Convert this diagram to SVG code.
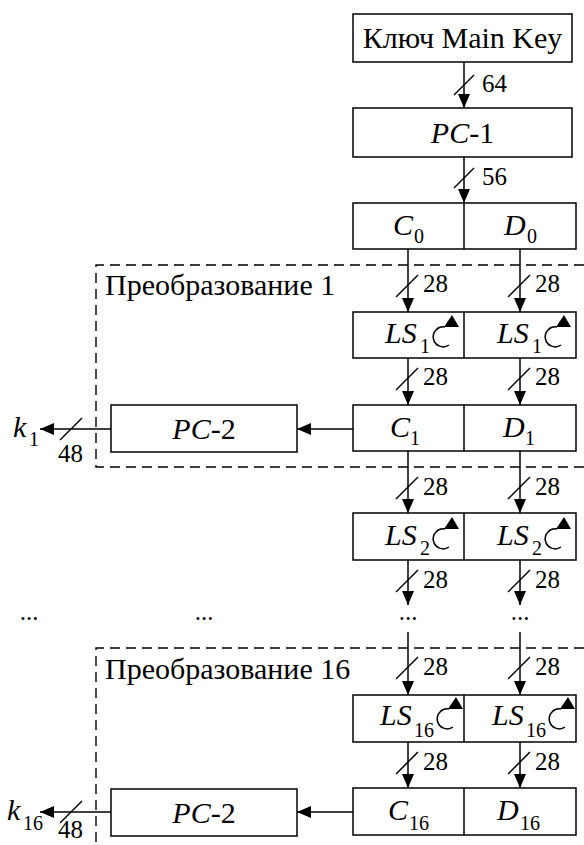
<svg xmlns="http://www.w3.org/2000/svg" width="584" height="845" viewBox="0 0 584 845" font-family="'Liberation Serif', 'Times New Roman', 'DejaVu Serif', serif">
<defs>
<style>
text{font-family:'Liberation Serif','Times New Roman','DejaVu Serif',serif;fill:#000}
.box{fill:#fff;stroke:#000;stroke-width:1.5}
.ln{fill:none;stroke:#000;stroke-width:1.5}
.dash{fill:none;stroke:#000;stroke-width:1.4;stroke-dasharray:10 6}
.t{font-size:30px}
.n{font-size:25px}
.i{font-style:italic}
.s{font-size:20px}
.dots{font-size:25px;text-anchor:middle}
</style>
<marker id="ah" viewBox="0 0 14 12" refX="14" refY="6" markerWidth="14" markerHeight="12" markerUnits="userSpaceOnUse" orient="auto">
<path d="M0,0 L14,6 L0,12 Z" fill="#000"/>
</marker>
<g id="rot">
<path d="M7,8 A10,10 0 1 1 3,-10" fill="none" stroke="#000" stroke-width="1.5"/>
<path d="M2,-10 L17,-10 L10,-22 Z" fill="#000"/>
</g>
</defs>

<g id="frames">
<path class="dash" d="M584,265 H96 V467 H584"/>
<path class="dash" d="M584,648 H96 V845"/>
<text class="t" x="105" y="295">Преобразование 1</text>
<text class="t" x="105" y="679">Преобразование 16</text>
</g>

<g id="connectors">
<line class="ln" x1="464" y1="62" x2="464" y2="108" marker-end="url(#ah)"/>
<line class="ln" x1="454" y1="95" x2="474" y2="75"/>
<text class="n" x="482" y="92">64</text>
<line class="ln" x1="464" y1="157" x2="464" y2="203" marker-end="url(#ah)"/>
<line class="ln" x1="454" y1="188" x2="474" y2="168"/>
<text class="n" x="482" y="185">56</text>

<line class="ln" x1="408" y1="249" x2="408" y2="312" marker-end="url(#ah)"/>
<line class="ln" x1="396" y1="297" x2="418" y2="275"/>
<text class="n" x="423" y="292">28</text>
<line class="ln" x1="520" y1="249" x2="520" y2="312" marker-end="url(#ah)"/>
<line class="ln" x1="508" y1="297" x2="530" y2="275"/>
<text class="n" x="535" y="292">28</text>

<line class="ln" x1="408" y1="358" x2="408" y2="405" marker-end="url(#ah)"/>
<line class="ln" x1="396" y1="390" x2="418" y2="368"/>
<text class="n" x="423" y="385">28</text>
<line class="ln" x1="520" y1="358" x2="520" y2="405" marker-end="url(#ah)"/>
<line class="ln" x1="508" y1="390" x2="530" y2="368"/>
<text class="n" x="535" y="385">28</text>

<line class="ln" x1="408" y1="451" x2="408" y2="513" marker-end="url(#ah)"/>
<line class="ln" x1="396" y1="499" x2="418" y2="477"/>
<text class="n" x="423" y="495">28</text>
<line class="ln" x1="520" y1="451" x2="520" y2="513" marker-end="url(#ah)"/>
<line class="ln" x1="508" y1="499" x2="530" y2="477"/>
<text class="n" x="535" y="495">28</text>

<line class="ln" x1="408" y1="560" x2="408" y2="605" marker-end="url(#ah)"/>
<line class="ln" x1="396" y1="592" x2="418" y2="570"/>
<text class="n" x="423" y="588">28</text>
<line class="ln" x1="520" y1="560" x2="520" y2="605" marker-end="url(#ah)"/>
<line class="ln" x1="508" y1="592" x2="530" y2="570"/>
<text class="n" x="535" y="588">28</text>

<line class="ln" x1="408" y1="632" x2="408" y2="695" marker-end="url(#ah)"/>
<line class="ln" x1="396" y1="679" x2="418" y2="657"/>
<text class="n" x="423" y="675">28</text>
<line class="ln" x1="520" y1="632" x2="520" y2="695" marker-end="url(#ah)"/>
<line class="ln" x1="508" y1="679" x2="530" y2="657"/>
<text class="n" x="535" y="675">28</text>

<line class="ln" x1="408" y1="742" x2="408" y2="788" marker-end="url(#ah)"/>
<line class="ln" x1="396" y1="774" x2="418" y2="752"/>
<text class="n" x="423" y="770">28</text>
<line class="ln" x1="520" y1="742" x2="520" y2="788" marker-end="url(#ah)"/>
<line class="ln" x1="508" y1="774" x2="530" y2="752"/>
<text class="n" x="535" y="770">28</text>

<line class="ln" x1="353" y1="429" x2="297" y2="429" marker-end="url(#ah)"/>
<line class="ln" x1="111" y1="429" x2="40" y2="429" marker-end="url(#ah)"/>
<line class="ln" x1="60" y1="440" x2="82" y2="418"/>
<text class="n" x="58" y="462">48</text>

<line class="ln" x1="353" y1="812" x2="297" y2="812" marker-end="url(#ah)"/>
<line class="ln" x1="111" y1="812" x2="40" y2="812" marker-end="url(#ah)"/>
<line class="ln" x1="60" y1="823" x2="82" y2="801"/>
<text class="n" x="58" y="838">48</text>
</g>

<g id="key">
<rect class="box" x="353" y="14" width="219" height="48"/>
<text class="t" x="462.5" y="48" text-anchor="middle">Ключ Main Key</text>
</g>
<g id="pc1">
<rect class="box" x="353" y="108" width="219" height="49"/>
<text class="t" x="462.5" y="143" text-anchor="middle"><tspan class="i">PC</tspan>-1</text>
</g>
<g id="cd0">
<rect class="box" x="353" y="203" width="223" height="46"/>
<line class="ln" x1="464" y1="203" x2="464" y2="249"/>
<text class="t i" x="393" y="235">C</text><text class="s" x="414" y="243">0</text>
<text class="t i" x="504" y="235">D</text><text class="s" x="527" y="243">0</text>
</g>
<g id="ls1">
<rect class="box" x="353" y="312" width="223" height="46"/>
<line class="ln" x1="464" y1="312" x2="464" y2="358"/>
<text class="t i" x="385" y="343">LS</text><text class="s" x="420" y="353">1</text>
<use href="#rot" x="442" y="337"/>
<text class="t i" x="497" y="343">LS</text><text class="s" x="532" y="353">1</text>
<use href="#rot" x="554" y="337"/>
</g>
<g id="cd1">
<rect class="box" x="353" y="405" width="223" height="46"/>
<line class="ln" x1="464" y1="405" x2="464" y2="451"/>
<text class="t i" x="390" y="437">C</text><text class="s" x="410" y="445">1</text>
<text class="t i" x="503" y="437">D</text><text class="s" x="525" y="445">1</text>
</g>
<g id="pc2a">
<rect class="box" x="111" y="405" width="186" height="47"/>
<text class="t" x="204" y="439" text-anchor="middle"><tspan class="i">PC</tspan>-2</text>
</g>
<g id="k1">
<text class="t i" x="13" y="437">k</text><text class="s" x="29" y="446">1</text>
</g>
<g id="ls2">
<rect class="box" x="353" y="513" width="223" height="47"/>
<line class="ln" x1="464" y1="513" x2="464" y2="560"/>
<text class="t i" x="385" y="545">LS</text><text class="s" x="420" y="555">2</text>
<use href="#rot" x="442" y="539"/>
<text class="t i" x="497" y="545">LS</text><text class="s" x="532" y="555">2</text>
<use href="#rot" x="554" y="539"/>
</g>
<g id="dots">
<text class="dots" x="29" y="620">...</text>
<text class="dots" x="204" y="620">...</text>
<text class="dots" x="408" y="620">...</text>
<text class="dots" x="520" y="620">...</text>
</g>
<g id="ls16">
<rect class="box" x="353" y="695" width="223" height="47"/>
<line class="ln" x1="464" y1="695" x2="464" y2="742"/>
<text class="t i" x="380" y="725">LS</text><text class="s" x="414" y="737">16</text>
<use href="#rot" x="446" y="719"/>
<text class="t i" x="492" y="725">LS</text><text class="s" x="526" y="737">16</text>
<use href="#rot" x="558" y="719"/>
</g>
<g id="cd16">
<rect class="box" x="353" y="788" width="223" height="47"/>
<line class="ln" x1="464" y1="788" x2="464" y2="835"/>
<text class="t i" x="388" y="820">C</text><text class="s" x="409" y="830">16</text>
<text class="t i" x="497" y="820">D</text><text class="s" x="520" y="830">16</text>
</g>
<g id="pc2b">
<rect class="box" x="111" y="789" width="186" height="47"/>
<text class="t" x="204" y="823" text-anchor="middle"><tspan class="i">PC</tspan>-2</text>
</g>
<g id="k16">
<text class="t i" x="7" y="820">k</text><text class="s" x="23" y="830">16</text>
</g>
</svg>
